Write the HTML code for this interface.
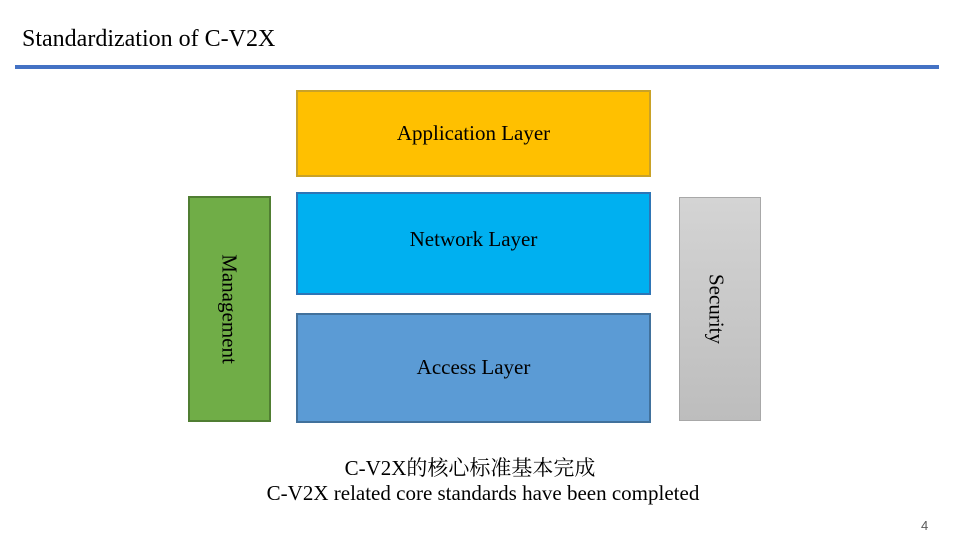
<!DOCTYPE html>
<html><head><meta charset="utf-8"><style>
body{margin:0;width:960px;height:540px;background:#fff;position:relative;overflow:hidden;font-family:"Liberation Serif","Noto Serif CJK SC",serif;color:#000}
.a{position:absolute;box-sizing:border-box}
.box{display:flex;align-items:center;justify-content:center;font-size:21px}
.v{position:absolute;font-size:21px;white-space:nowrap;transform:translate(-50%,-50%) rotate(90deg)}
</style></head><body>
<div class="a" style="left:22px;top:26px;font-size:24px;">Standardization of C-V2X</div>
<div class="a" style="left:15px;top:65px;width:924px;height:4px;background:#4472c4"></div>

<div class="a box" style="left:296px;top:90px;width:355px;height:87px;background:#ffc000;border:2px solid #c9a227;">Application Layer</div>
<div class="a box" style="left:296px;top:192px;width:355px;height:103px;background:#00b0f0;border:2px solid #2e75b6;padding-bottom:8px;">Network Layer</div>
<div class="a" style="left:296px;top:313px;width:355px;height:110px;background:#5b9bd5;border:2px solid #41719c;"></div>
<div class="a" style="left:296px;top:355px;width:355px;text-align:center;font-size:21px;">Access Layer</div>

<div class="a" style="left:188px;top:196px;width:83px;height:226px;background:#70ad47;border:2px solid #507e32;"></div>
<div class="v" style="left:229px;top:309px;">Management</div>
<div class="a" style="left:679px;top:197px;width:82px;height:224px;background:linear-gradient(#d4d4d4,#bdbdbd);border:1px solid #a8a8a8;"></div>
<div class="v" style="left:716px;top:309px;">Security</div>

<div class="a" style="left:0;top:452px;width:940px;text-align:center;font-size:21px;">C-V2X的核心标准基本完成</div>
<div class="a" style="left:0;top:481px;width:966px;text-align:center;font-size:21px;">C-V2X related core standards have been completed</div>
<div class="a" style="left:921px;top:518px;font-family:'Liberation Sans',sans-serif;font-size:13px;color:#595959;">4</div>
</body></html>
